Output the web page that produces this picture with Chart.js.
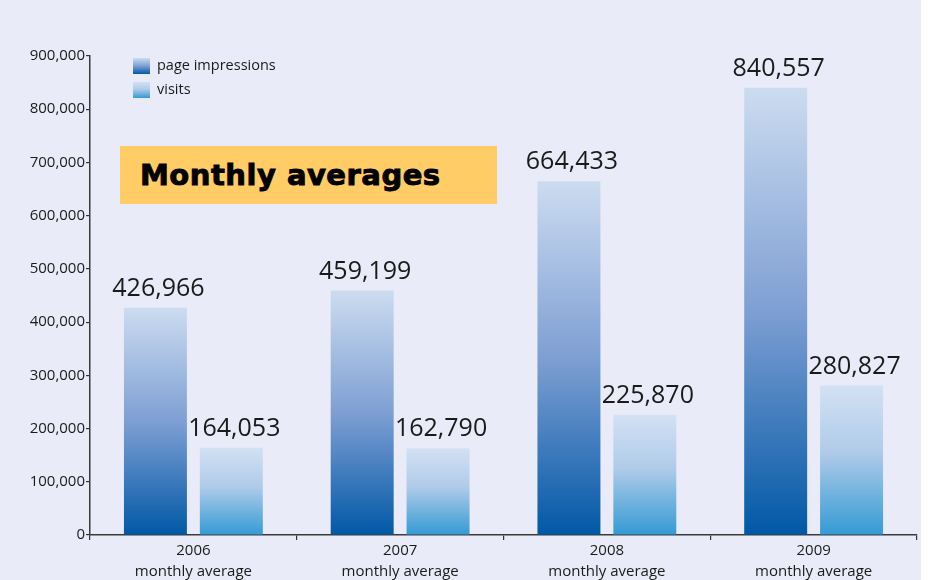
<!DOCTYPE html>
<html>
<head>
<meta charset="utf-8">
<script src="https://cdn.jsdelivr.net/npm/chart.js@4"></script>
<style>
  html, body { margin: 0; padding: 0; background: #ffffff; }
  #wrap { position: relative; width: 943px; height: 580px; overflow: hidden; }
  #bg { position: absolute; left: 0; top: 0; width: 921px; height: 580px; background: #E9ECF8; }
  #c { position: absolute; left: 0; top: 0; }
  #title { position: absolute; left: 120px; top: 146px; width: 377px; height: 58px; background: #FFCC66;
           font-family: "DejaVu Sans", sans-serif; font-weight: bold; font-size: 29px; color: #000;
           -webkit-text-stroke: 0.9px #000;
           line-height: 58px; box-sizing: border-box; padding-left: 20px; letter-spacing: 0.5px; }
</style>
</head>
<body>
<div id="wrap">
  <div id="bg"></div>
  <canvas id="c" width="943" height="580"></canvas>
  <div id="title">Monthly averages</div>
</div>
<script>
const categories = [["2006", "monthly average"], ["2007", "monthly average"], ["2008", "monthly average"], ["2009", "monthly average"]];
const seriesNames = ["page impressions", "visits"];
const pageImpressions = [426966, 459199, 664433, 840557];
const visits = [164053, 162790, 225870, 280827];
const yTicks = [0, 100000, 200000, 300000, 400000, 500000, 600000, 700000, 800000, 900000];

const FONT = '"Open Sans", "Noto Sans", sans-serif';
const fmt = v => v.toLocaleString('en-US');

const gradStops = [
  [[0, '#CCDCF0'], [0.5, '#7E9FD3'], [1, '#0158A6']],
  [[0, '#D3E1F3'], [0.45, '#AFCBE9'], [1, '#349AD4']]
];

function barGradient(ctx, idx) {
  const chart = ctx.chart;
  const area = chart.chartArea;
  if (!area || ctx.type !== 'data') return gradStops[idx][2][1];
  const y = chart.scales.y;
  const top = y.getPixelForValue(ctx.raw);
  const bottom = y.getPixelForValue(0);
  const g = chart.ctx.createLinearGradient(0, top, 0, bottom);
  gradStops[idx].forEach(s => g.addColorStop(s[0], s[1]));
  return g;
}

const labelsPlugin = {
  id: 'valueLabels',
  afterDatasetsDraw(chart) {
    const c = chart.ctx;
    c.save();
    c.font = '25px ' + FONT;
    c.fillStyle = '#1a1a1a';
    c.textAlign = 'center';
    c.textBaseline = 'alphabetic';
    chart.data.datasets.forEach((ds, di) => {
      chart.getDatasetMeta(di).data.forEach((bar, i) => {
        c.fillText(fmt(ds.data[i]), bar.x + 3, bar.y - 12);
      });
    });
    c.restore();
  }
};

const legendPlugin = {
  id: 'innerLegend',
  afterDraw(chart) {
    const c = chart.ctx;
    c.save();
    const x = 133, ys = [58, 82], w = 17, h = 16;
    chart.data.datasets.forEach((ds, di) => {
      const g = c.createLinearGradient(0, ys[di], 0, ys[di] + h);
      gradStops[di].forEach(s => g.addColorStop(s[0], s[1]));
      c.fillStyle = g;
      c.fillRect(x, ys[di], w, h);
      c.fillStyle = '#1a1a1a';
      c.font = '14.5px ' + FONT;
      c.textBaseline = 'middle';
      c.textAlign = 'left';
      c.fillText(ds.label, x + 24, ys[di] + h / 2);
    });
    c.restore();
  }
};

new Chart(document.getElementById('c'), {
  type: 'bar',
  data: {
    labels: categories,
    datasets: [
      { label: seriesNames[0], data: pageImpressions, backgroundColor: ctx => barGradient(ctx, 0) },
      { label: seriesNames[1], data: visits, backgroundColor: ctx => barGradient(ctx, 1) }
    ]
  },
  options: {
    responsive: false,
    animation: false,
    devicePixelRatio: 1,
    layout: { padding: { left: 0, right: 26, top: 56, bottom: 0 } },
    datasets: { bar: { categoryPercentage: 0.734, barPercentage: 0.83 } },
    plugins: { legend: { display: false }, tooltip: { enabled: false }, title: { display: false } },
    scales: {
      x: {
        grid: { display: true, offset: true, drawOnChartArea: false, drawTicks: true, tickLength: 5, color: '#333', lineWidth: 1.2 },
        border: { display: true, color: '#3a3a3a', width: 1.5 },
        ticks: { color: '#1a1a1a', font: { family: FONT, size: 15, lineHeight: 1.42 }, padding: 0, maxRotation: 0 },
        afterFit(s) { s.height = 45; }
      },
      y: {
        min: 0, max: 900000,
        afterBuildTicks(s) { s.ticks = yTicks.map(v => ({ value: v })); },
        grid: { display: true, drawOnChartArea: false, drawTicks: true, tickLength: 4, color: '#333', lineWidth: 1.2 },
        border: { display: true, color: '#3a3a3a', width: 1.5 },
        ticks: { color: '#1a1a1a', font: { family: FONT, size: 15 }, padding: 1, callback: v => fmt(v) },
        afterFit(s) { s.width = 90; }
      }
    }
  },
  plugins: [labelsPlugin, legendPlugin]
});
</script>
</body>
</html>
